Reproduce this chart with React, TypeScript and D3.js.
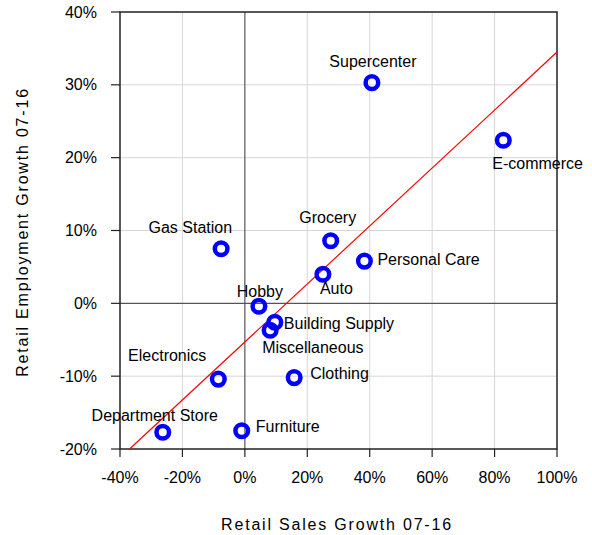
import React from 'react';
import * as d3 from 'd3';

// retail segments, growth 2007-2016 in percent
const segments = [
  'Supercenter', 'E-commerce', 'Gas Station', 'Grocery', 'Personal Care', 'Auto', 'Hobby',
  'Building Supply', 'Miscellaneous', 'Electronics', 'Clothing', 'Department Store', 'Furniture',
];
const salesGrowth = [40.7, 82.8, -7.6, 27.5, 38.3, 25.0, 4.5, 9.6, 8.1, -8.5, 15.8, -26.3, -1.0];
const employmentGrowth = [30.3, 22.4, 7.5, 8.6, 5.8, 4.0, -0.4, -2.6, -3.7, -10.4, -10.2, -17.7, -17.5];

const xTicks = [-40, -20, 0, 20, 40, 60, 80, 100];
const yTicks = [-20, -10, 0, 10, 20, 30, 40];

// fitted trend line
const trendSlope = 0.398;
const trendIntercept = -5.3;

// label placement relative to each marker: [dx, dy, anchor]
const labelPlace: [number, number, string][] = [
  [1, -21, 'middle'],
  [-11, 23, 'start'],
  [11, -21, 'end'],
  [-3, -23, 'middle'],
  [13, -2, 'start'],
  [-3, 14, 'start'],
  [1, -15, 'middle'],
  [9, 1, 'start'],
  [-8, 17, 'start'],
  [-12, -24, 'end'],
  [16, -4, 'start'],
  [-8, -17, 'middle'],
  [14, -4, 'start'],
];

const width = 592;
const height = 535;
const plot = { left: 120, right: 557, top: 12, bottom: 449 };
const font = '"Liberation Sans", Arial, sans-serif';

const App: React.FC = () => {
  const x = d3.scaleLinear().domain([-40, 100]).range([plot.left, plot.right]);
  const y = d3.scaleLinear().domain([-20, 40]).range([plot.bottom, plot.top]);

  const trendX0 = (-20 - trendIntercept) / trendSlope;
  const trend = d3.line<number>()
    .x(d => x(d))
    .y(d => y(trendSlope * d + trendIntercept))([trendX0, 100]);

  const fmt = (v: number) => `${v}%`;

  return (
    <svg width={width} height={height} style={{ position: 'absolute', left: 0, top: 0, background: '#fff' }}
      fontFamily={font}>
      {/* grid */}
      {xTicks.filter(t => t !== 0 && t !== -40 && t !== 100).map(t => (
        <line key={`gx${t}`} x1={x(t)} x2={x(t)} y1={plot.top} y2={plot.bottom} stroke="#d6d6d6" strokeWidth={1} />
      ))}
      {yTicks.filter(t => t !== 0 && t !== -20 && t !== 40).map(t => (
        <line key={`gy${t}`} x1={plot.left} x2={plot.right} y1={y(t)} y2={y(t)} stroke="#d6d6d6" strokeWidth={1} />
      ))}
      {/* zero lines */}
      <line x1={x(0)} x2={x(0)} y1={plot.top} y2={plot.bottom} stroke="#555" strokeWidth={1.2} />
      <line x1={plot.left} x2={plot.right} y1={y(0)} y2={y(0)} stroke="#555" strokeWidth={1.2} />
      {/* frame */}
      <rect x={plot.left} y={plot.top} width={plot.right - plot.left} height={plot.bottom - plot.top}
        fill="none" stroke="#222" strokeWidth={1.5} />

      {/* ticks */}
      {xTicks.map(t => (
        <g key={`xt${t}`}>
          <line x1={x(t)} x2={x(t)} y1={plot.bottom} y2={plot.bottom + 8} stroke="#222" strokeWidth={1.2} />
          <text x={x(t)} y={477} textAnchor="middle" dominantBaseline="central" fontSize={16} fill="#000">{fmt(t)}</text>
        </g>
      ))}
      {yTicks.map(t => (
        <g key={`yt${t}`}>
          <line x1={plot.left - 9} x2={plot.left} y1={y(t)} y2={y(t)} stroke="#222" strokeWidth={1.2} />
          <text x={97} y={y(t)} textAnchor="end" dominantBaseline="central" fontSize={16} fill="#000">{fmt(t)}</text>
        </g>
      ))}

      {/* trend */}
      <path d={trend || ''} fill="none" stroke="#ff0000" strokeWidth={1.2} />

      {/* points */}
      {segments.map((s, i) => (
        <circle key={s} cx={x(salesGrowth[i])} cy={y(employmentGrowth[i])} r={6.3}
          fill="none" stroke="#0000ff" strokeWidth={4.5} />
      ))}
      {segments.map((s, i) => {
        const [dx, dy, anchor] = labelPlace[i];
        return (
          <text key={`l${s}`} x={x(salesGrowth[i]) + dx} y={y(employmentGrowth[i]) + dy}
            textAnchor={anchor} dominantBaseline="central" fontSize={16} fill="#000">{s}</text>
        );
      })}

      {/* axis titles */}
      <text x={337} y={524} textAnchor="middle" dominantBaseline="central" fontSize={16}
        letterSpacing={1.8} fill="#000">Retail Sales Growth 07-16</text>
      <text transform="translate(22,232) rotate(-90)" textAnchor="middle" dominantBaseline="central" fontSize={16}
        letterSpacing={1.8} fill="#000">Retail Employment Growth 07-16</text>
    </svg>
  );
};

export default App;
